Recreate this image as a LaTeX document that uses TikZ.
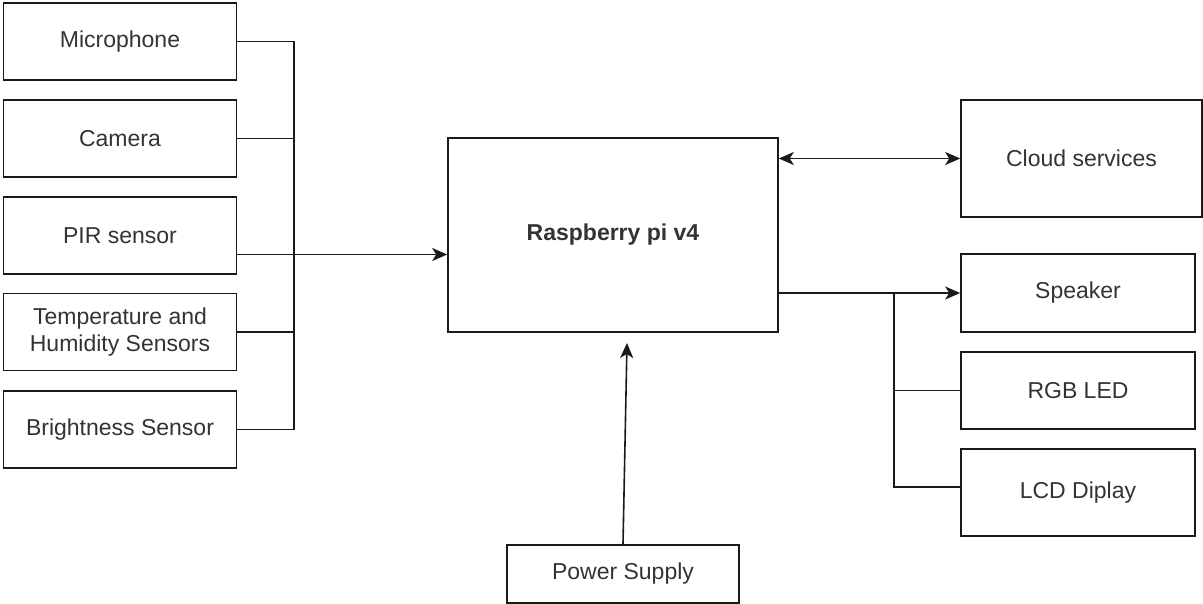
\documentclass[tikz,border=0pt]{standalone}
\usepackage{fontspec}
\setmainfont{Liberation Sans}
\usetikzlibrary{arrows.meta}
\definecolor{txt}{HTML}{333333}
\definecolor{ln}{HTML}{1A1A1A}
\tikzset{
  blk/.style={draw=ln, line width=1.6pt, inner sep=0pt, text=txt, align=center,
    font=\fontsize{23}{27}\selectfont},
  wire/.style={draw=ln, line width=1.6pt},
  arr/.style={wire, -{Stealth[length=15pt,width=13pt,inset=4pt]}},
  darr/.style={wire, {Stealth[length=15pt,width=13pt,inset=4pt]}-{Stealth[length=15pt,width=13pt,inset=4pt]}}
}
\begin{document}
\begin{tikzpicture}[x=1pt,y=-1pt]
\useasboundingbox (0,0) rectangle (1203,604);
\node[blk, minimum width=233pt, minimum height=77pt] (mic) at (120,41.5) {Microphone};
\node[blk, minimum width=233pt, minimum height=77pt] (cam) at (120,138.5) {Camera};
\node[blk, minimum width=233pt, minimum height=77pt] (pir) at (120,235.5) {PIR sensor};
\node[blk, minimum width=233pt, minimum height=77pt] (temp) at (120,332) {Temperature and\\Humidity Sensors};
\node[blk, minimum width=233pt, minimum height=77pt] (bri) at (120,429.5) {Brightness Sensor};
\node[blk, minimum width=330pt, minimum height=194pt, font=\fontsize{23}{27}\selectfont\bfseries] (rpi) at (613,235) {Raspberry pi v4};
\node[blk, minimum width=241pt, minimum height=117pt] (cloud) at (1081.5,158.5) {Cloud services};
\node[blk, minimum width=234pt, minimum height=78pt] (spk) at (1078,293) {Speaker};
\node[blk, minimum width=234pt, minimum height=77pt] (rgb) at (1078,390.5) {RGB LED};
\node[blk, minimum width=234pt, minimum height=87pt] (lcd) at (1078,492.5) {LCD Diplay};
\node[blk, minimum width=232pt, minimum height=58pt] (pwr) at (623,574) {Power Supply};
\coordinate (bus) at (294,0);
\coordinate (jn) at (894,0);
\coordinate (ptip) at (627,343);
% left bus
\draw[wire] (mic.east) -- (mic.east -| bus) -- (bri.east -| bus) -- (bri.east);
\draw[wire] (cam.east) -- (cam.east -| bus);
\draw[wire] (temp.east) -- (temp.east -| bus);
\draw[arr] ([yshift=-19pt]pir.east) -- ([yshift=-19pt]pir.east -| rpi.west);
% right
\draw[darr] (rpi.east |- cloud.west) -- (cloud.west);
\draw[arr] (rpi.east |- spk.west) -- (spk.west);
\draw[wire] (spk.west -| jn) -- ([yshift=5.5pt]lcd.west -| jn) -- ([yshift=5.5pt]lcd.west);
\draw[wire] (rgb.west -| jn) -- (rgb.west);
% power
\draw[arr] (pwr.north) -- (ptip);
\end{tikzpicture}
\end{document}
